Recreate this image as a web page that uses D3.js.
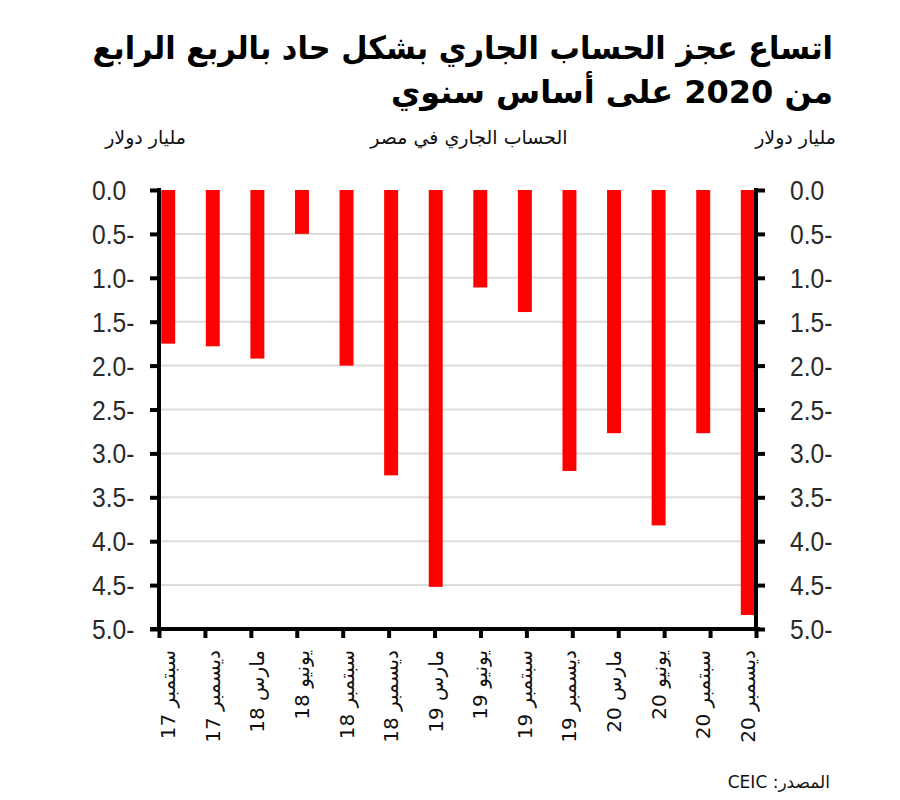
<!DOCTYPE html>
<html><head><meta charset="utf-8">
<script src="https://cdn.jsdelivr.net/npm/d3@7"></script>
<style>body{margin:0;background:#fff}svg{display:block}</style>
</head><body>
<svg id="c" width="900" height="800"></svg>
<script>
const months = ["سبتمبر","ديسمبر","مارس","يونيو","سبتمبر","ديسمبر","مارس","يونيو","سبتمبر","ديسمبر","مارس","يونيو","سبتمبر","ديسمبر"];
const years = ["17","17","18","18","18","18","19","19","19","19","20","20","20","20"];
const values = [1.75, 1.78, 1.92, 0.50, 2.00, 3.25, 4.52, 1.11, 1.39, 3.20, 2.77, 3.82, 2.77, 4.84];
const yTicks = [0,0.5,1,1.5,2,2.5,3,3.5,4,4.5,5];
const titleLines = ["اتساع عجز الحساب الجاري بشكل حاد بالربع الرابع","من 2020 على أساس سنوي"];
const subtitle = "الحساب الجاري في مصر";
const unitLabel = "مليار دولار";
const source = "المصدر: CEIC";

const svg = d3.select("#c");
const L = 159, R = 756, T = 190, B = 629;
const cats = months.map((m,i)=>i);
const x = d3.scaleBand().domain(cats).range([L, R+1]).paddingInner(0.687).paddingOuter(0.05);
const xt = d3.scalePoint().domain(cats).range([L, R]);
const y = d3.scaleLinear().domain([0,5]).range([T,B]);
const arFont = "'DejaVu Sans', sans-serif";
const numFont = "'Liberation Sans', Arial, sans-serif";

// title
svg.selectAll(".title").data(titleLines).enter().append("text")
  .attr("x", 833).attr("y",(d,i)=>59+i*44)
  .attr("text-anchor","end").attr("font-family",arFont).attr("font-weight","bold")
  .attr("font-size",32).attr("fill","#000").text(d=>d)
  .each(function(d,i){
    if(i===0){
      const w=this.getComputedTextLength();
      const s=741/w;
      d3.select(this).attr("transform",`translate(833,0) scale(${s},1) translate(-833,0)`);
    }
  });

// subtitles
const sub = (xx,anchor,t)=>svg.append("text").attr("x",xx).attr("y",144).attr("text-anchor",anchor).attr("font-family",arFont).attr("font-size",19).attr("fill","#111").text(t);
sub(186,"end",unitLabel);
sub(836,"end",unitLabel);
sub(469,"middle",subtitle);

// gridlines
svg.append("g").selectAll("line").data(yTicks.filter(v=>v>0&&v<5)).enter().append("line")
  .attr("x1",L).attr("x2",R).attr("y1",d=>y(d)).attr("y2",d=>y(d))
  .attr("stroke","#dcdcdc").attr("stroke-width",2);

// bars
svg.append("g").selectAll("rect").data(values).enter().append("rect")
  .attr("x",(d,i)=>x(i)).attr("width",x.bandwidth())
  .attr("y",y(0)).attr("height",d=>y(d)-y(0)).attr("fill","#ff0000");

// axes
const fmt = v => v===0 ? "0.0" : d3.format(".1f")(v)+"-";
const yl = d3.axisLeft(y).tickValues(yTicks).tickSize(9).tickFormat("");
const yr = d3.axisRight(y).tickValues(yTicks).tickSize(9).tickFormat("");
const gL = svg.append("g").attr("transform",`translate(${L},0)`).call(yl);
const gR = svg.append("g").attr("transform",`translate(${R},0)`).call(yr);
[gL,gR].forEach(g=>{g.select(".domain").remove();g.selectAll(".tick line").attr("stroke","#000").attr("stroke-width",4);});
svg.append("line").attr("x1",L).attr("x2",L).attr("y1",T-2).attr("y2",B+2).attr("stroke","#000").attr("stroke-width",4);
svg.append("line").attr("x1",R).attr("x2",R).attr("y1",T-2).attr("y2",B+2).attr("stroke","#000").attr("stroke-width",4);

const xa = d3.axisBottom(xt).tickSize(9).tickFormat("");
const gX = svg.append("g").attr("transform",`translate(0,${B})`).call(xa);
gX.select(".domain").remove();
gX.selectAll(".tick line").attr("stroke","#000").attr("stroke-width",4);
svg.append("line").attr("x1",L-9).attr("x2",R+4).attr("y1",B).attr("y2",B).attr("stroke","#000").attr("stroke-width",4);

// y tick labels (narrowed)
[92,790].forEach(x0=>{
  svg.append("g").attr("transform",`translate(${x0},0) scale(0.88,1)`)
    .selectAll("text").data(yTicks).enter().append("text")
    .attr("x",0).attr("y",d=>y(d)).attr("dy","0.36em")
    .attr("font-family",numFont).attr("font-size",28).attr("fill","#2a2a2a").text(fmt);
});

// x labels
svg.append("g").selectAll("text").data(cats).enter().append("text")
  .attr("transform",i=>`translate(${x(i)+x.bandwidth()/2},650) rotate(-90)`)
  .attr("text-anchor","end").attr("dy","0.35em")
  .attr("font-family",arFont).attr("font-size",20).attr("fill","#111")
  .text(i=>years[i]+" "+months[i]);

// source
svg.append("text").attr("x",830).attr("y",788).attr("direction","rtl").attr("text-anchor","start")
  .attr("font-family",arFont).attr("font-size",17).attr("fill","#111").text(source);
</script>
</body></html>
